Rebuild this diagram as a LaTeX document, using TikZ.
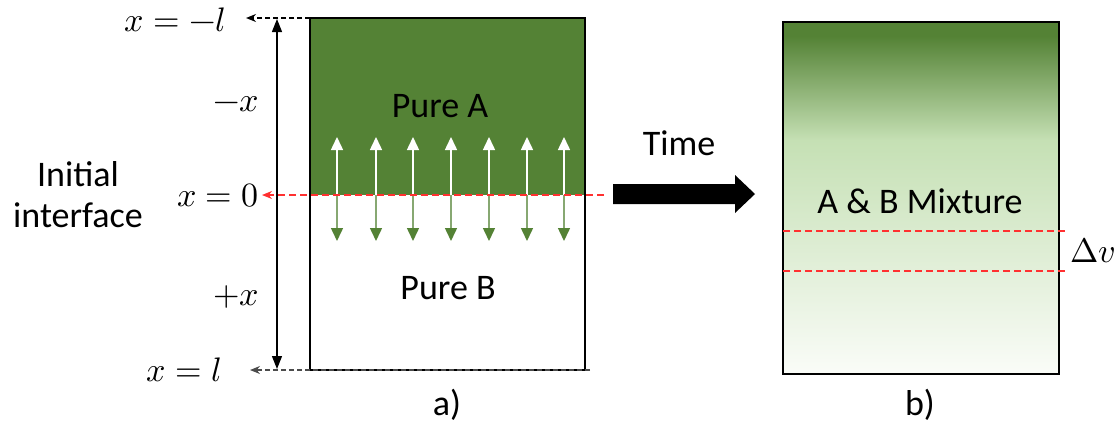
\documentclass[tikz,border=0pt]{standalone}
\usepackage{fontspec}
\usepackage{unicode-math}
\setmainfont{Carlito}
\setmathfont{Latin Modern Math}
\usetikzlibrary{arrows.meta}
\definecolor{gA}{HTML}{548235}
\definecolor{gL}{HTML}{C5E0B4}
\definecolor{gW}{HTML}{FAFCF8}
\definecolor{rd}{HTML}{FF3030}
\tikzset{
  lbl/.style={font=\fontsize{36}{43}\selectfont, inner sep=0pt},
  mth/.style={font=\fontsize{34}{40}\selectfont, inner sep=0pt},
  blackdash/.style={dash pattern=on 5pt off 3pt, line width=1.3pt, -{Stealth[length=10pt,width=8pt]}},
  reddash/.style={dash pattern=on 7pt off 4pt, line width=1.4pt, draw=rd},
  uparr/.style={white, line width=1.5pt, -{Triangle[length=13pt,width=12pt]}},
  dnarr/.style={gA!70, line width=1.5pt, -{Triangle[length=13pt,width=12pt,fill=gA,color=gA]}},
}
\begin{document}
\begin{tikzpicture}[x=1pt,y=-1pt]
\useasboundingbox (0,0) rectangle (1118,426);
% left box
\fill[gA] (310,18) rectangle (585,195);
\draw[line width=1.5pt] (310,18) rectangle (585,370);
% arrows in box
\foreach \i/\xx in {1/337,2/376,3/413,4/451,5/489,6/527,7/564}{
  \coordinate (m\i) at (\xx,195);
  \coordinate (u\i) at (\xx,137);
  \coordinate (d\i) at (\xx,241);
  \draw[uparr] (m\i) -- (u\i);
  \draw[dnarr] (m\i) -- (d\i);
}
% labels
\node[lbl] (pa) at (440,106) {Pure A};
\node[lbl] (pb) at (448,288) {Pure B};
\node[lbl] (la) at (447,405) {a)};
% left axis
\node[mth, anchor=east] (xml) at (226,20) {$x=-l$};
\node[mth, anchor=east] (x0) at (259,196) {$x=0$};
\node[mth, anchor=east] (xl) at (222,370) {$x=l$};
\node[mth] (mx) at (236,104) {$-x$};
\node[mth] (px) at (236,297) {$+x$};
\node[lbl, align=center] (ii) at (78,195) {Initial\\[-2pt]interface};
\coordinate (ta) at (310,18);
\coordinate (tb) at (246,18);
\draw[blackdash] (ta) -- (tb);
\coordinate (ba) at (590,370);
\coordinate (bb) at (250,370);
\draw[blackdash, draw=black!70] (ba) -- (bb);
\coordinate (ra) at (604,195);
\coordinate (rb) at (262,195);
\draw[reddash, -{Stealth[length=10pt,width=8pt]}] (ra) -- (rb);
\coordinate (va) at (277,19);
\coordinate (vb) at (277,369);
\draw[line width=1.3pt, {Triangle[length=13pt,width=10pt]}-{Triangle[length=13pt,width=10pt]}] (va) -- (vb);
% time arrow
\fill[black] (613,184) -- (735,184) -- (735,175) -- (755,194) -- (735,213) -- (735,204) -- (613,204) -- cycle;
\node[lbl] (time) at (679,143) {Time};
% right box
\fill[gA] (783,22) rectangle (1059,36);
\shade[top color=gA, bottom color=gL] (783,36) rectangle (1059,140);
\shade[top color=gL, bottom color=gW] (783,140) rectangle (1059,374);
\draw[line width=1.5pt] (783,22) rectangle (1059,374);
\node[lbl] (mix) at (920,201) {A \& B Mixture};
\node[lbl] (lb) at (920,405) {b)};
\coordinate (d1a) at (783,231);
\coordinate (d1b) at (1066,231);
\coordinate (d2a) at (783,271);
\coordinate (d2b) at (1066,271);
\draw[reddash] (d1a) -- (d1b);
\draw[reddash] (d2a) -- (d2b);
\node[mth] (dv) at (1093,251) {$\Delta v$};
\end{tikzpicture}
\end{document}
